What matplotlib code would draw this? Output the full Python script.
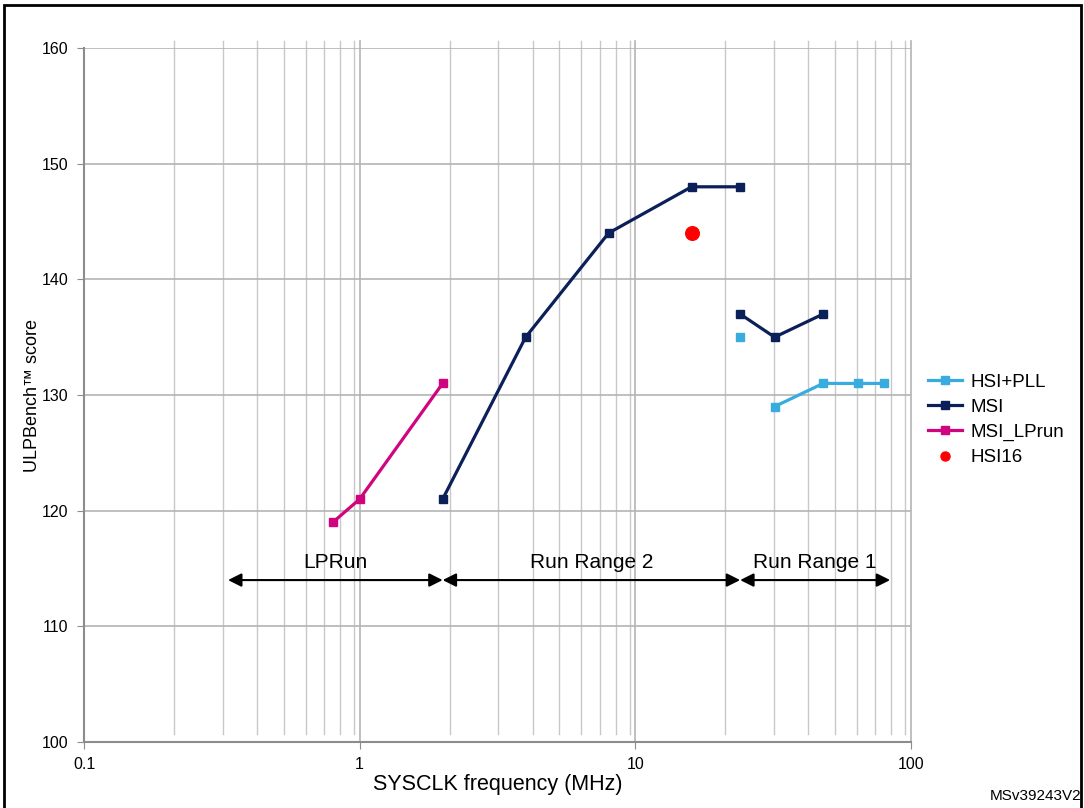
import matplotlib.pyplot as plt
import matplotlib.transforms as mtransforms
import numpy as np

# Данные
hsipll_x = [24, 32, 48, 64, 80]
hsipll_y = [135, 129, 131, 131, 131]
msi_x_a = [2, 4, 8, 16, 24]
msi_y_a = [121, 135, 144, 148, 148]
msi_x_b = [24, 32, 48]
msi_y_b = [137, 135, 137]
lprun_x = [0.8, 1, 2]
lprun_y = [119, 121, 131]
hsi16_x = [16]
hsi16_y = [144]

ranges = [('LPRun', 0.333, 2), ('Run Range 2', 2, 24), ('Run Range 1', 24, 84)]

c_hsipll = '#39ACDF'
c_msi = '#0B1F59'
c_lprun = '#D1047F'
c_hsi16 = '#FF0000'

plt.rcParams['font.family'] = ['Liberation Sans', 'DejaVu Sans']

fig = plt.figure(figsize=(10.84, 8.08), dpi=100)
ax = fig.add_axes([84 / 1084, 66 / 808, 827 / 1084, 694 / 808])
ax.set_xscale('log')
ax.set_xlim(0.1, 100)
ax.set_ylim(100, 160)

# Сетка (второстепенные линии сдвинуты как в оригинале)
shifted = mtransforms.offset_copy(ax.transData, fig=fig, x=7, y=0, units='dots')
for dec in [0.1, 1, 10]:
    for m in range(2, 10):
        ax.plot([dec * m, dec * m], [100.7, 160.6], color='#c8c8c8', linewidth=1,
                clip_on=False, zorder=0, transform=shifted)
for xv in [1, 10, 100]:
    ax.plot([xv, xv], [100, 160.6], color='#b4b4b4', linewidth=1.2, clip_on=False, zorder=0)
for yv in range(110, 161, 10):
    ax.axhline(yv, color='#b4b4b4', linewidth=1.2, zorder=0)

for s in ['top', 'right']:
    ax.spines[s].set_visible(False)
for s in ['left', 'bottom']:
    ax.spines[s].set_color('#8c8c8c')
    ax.spines[s].set_linewidth(1.5)

ax.set_xticks([0.1, 1, 10, 100])
ax.set_xticklabels(['0.1', '1', '10', '100'])
ax.xaxis.set_minor_locator(plt.NullLocator())
ax.set_yticks(range(100, 161, 10))
ax.tick_params(axis='both', colors='#8c8c8c', labelcolor='black', labelsize=11.5, length=5)
ax.tick_params(axis='y', pad=6)
ax.tick_params(axis='x', pad=6)

ms = 6.3
ax.plot(hsipll_x[:1], hsipll_y[:1], color=c_hsipll, marker='s', markersize=ms, linestyle='none')
ax.plot(hsipll_x[1:], hsipll_y[1:], color=c_hsipll, marker='s', markersize=ms, linewidth=2.3,
        label='HSI+PLL')
ax.plot(msi_x_a, msi_y_a, color=c_msi, marker='s', markersize=ms, linewidth=2.3, label='MSI')
ax.plot(msi_x_b, msi_y_b, color=c_msi, marker='s', markersize=ms, linewidth=2.3)
ax.plot(lprun_x, lprun_y, color=c_lprun, marker='s', markersize=ms, linewidth=2.3,
        label='MSI_LPrun')
ax.plot(hsi16_x, hsi16_y, color=c_hsi16, marker='o', markersize=9.8, linestyle='none',
        label='HSI16')

# Диапазоны
for name, x0, x1 in ranges:
    ax.annotate('', xy=(x0, 114), xytext=(x1, 114),
                arrowprops=dict(arrowstyle='<|-|>', color='black', lw=1.5,
                                mutation_scale=20, shrinkA=0, shrinkB=0))
    ax.text(np.sqrt(x0 * x1), 114.7, name, ha='center', va='bottom', fontsize=15)

ax.set_xlabel('SYSCLK frequency (MHz)', fontsize=15.5, labelpad=1)
ax.set_ylabel('ULPBench™ score', fontsize=13, labelpad=1)

leg = ax.legend(loc='center left', bbox_to_anchor=(1.0, 0.464), frameon=False, fontsize=13.5,
                handlelength=1.8, handletextpad=0.45, labelspacing=0.42)
leg.legend_handles[3].set_markersize(6.5)

fig.text(0.998, 0.006, 'MSv39243V2', ha='right', va='bottom', fontsize=11)

# Рамка
fig.add_artist(plt.Rectangle((4 / 1084, -0.01), 1077 / 1084, 1.0 - 5 / 808 + 0.01,
                             transform=fig.transFigure, fill=False, edgecolor='black',
                             linewidth=2))

fig.savefig('out.png', dpi=100)
